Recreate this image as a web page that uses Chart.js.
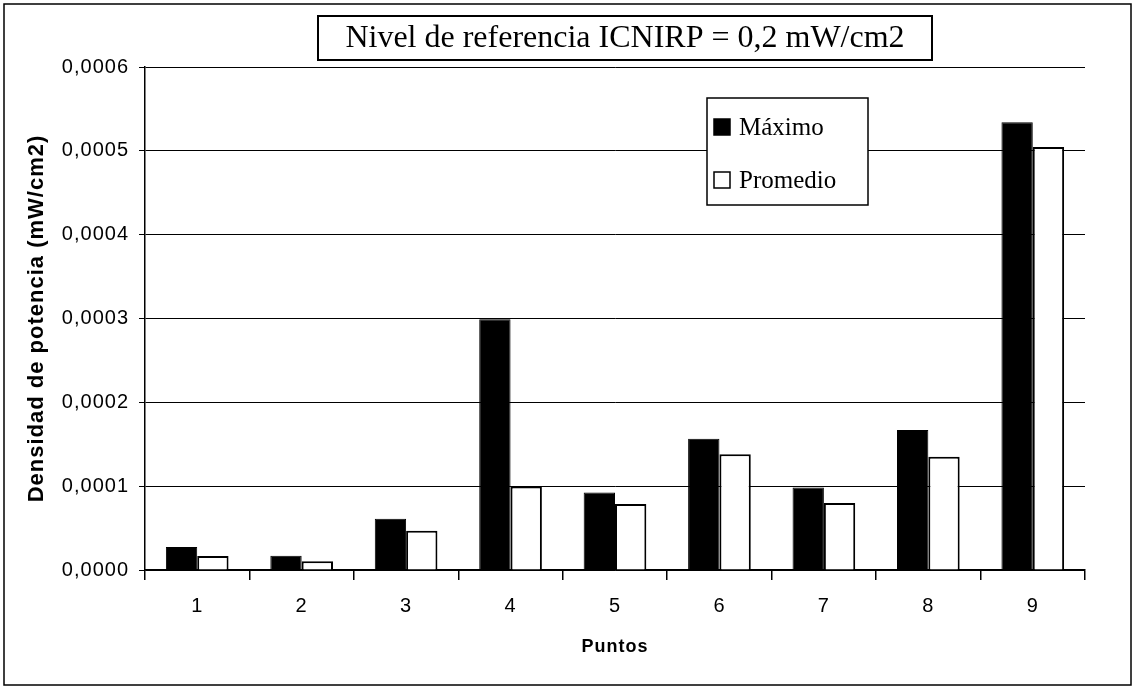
<!DOCTYPE html>
<html>
<head>
<meta charset="utf-8">
<script src="https://cdn.jsdelivr.net/npm/chart.js@4/dist/chart.umd.min.js"></script>
<style>
  html, body { margin: 0; padding: 0; background: #fff; }
  #wrap { width: 1135px; height: 689px; }
</style>
</head>
<body>
<div id="wrap"><canvas id="chartPuntos" width="1135" height="689"></canvas></div>
<script>
const puntos = ['1', '2', '3', '4', '5', '6', '7', '8', '9']
const maximo = [0.0000275, 0.000017, 0.000061, 0.000299, 0.0000925, 0.0001565, 0.0000985, 0.000167, 0.000534]
const promedio = [0.0000167, 0.0000104, 0.0000469, 0.0000995, 0.0000788, 0.000138, 0.00008, 0.000135, 0.0005045]
const titulo = 'Nivel de referencia ICNIRP = 0,2 mW/cm2'

// letras un poco separadas como en el original
const espaciado = {
    id: 'espaciado',
    beforeInit(chart) { chart.ctx.letterSpacing = '1px' },
    beforeDraw(chart) { chart.ctx.letterSpacing = '1px' }
}

// marco, titulo en recuadro y leyenda
const extras = {
    id: 'extras',
    afterDraw(chart) {
        const ctx = chart.ctx
        ctx.save()
        ctx.letterSpacing = '0px'
        ctx.strokeStyle = '#000'
        ctx.lineWidth = 1.5
        ctx.strokeRect(4, 4, 1127, 681)

        ctx.lineWidth = 2
        ctx.fillStyle = '#fff'
        ctx.fillRect(318, 16, 614, 44)
        ctx.strokeRect(318, 16, 614, 44)
        ctx.fillStyle = '#000'
        ctx.font = '32px "Liberation Serif"'
        ctx.textAlign = 'center'
        ctx.textBaseline = 'middle'
        ctx.fillText(titulo, 625, 39)

        ctx.lineWidth = 1.5
        ctx.fillStyle = '#fff'
        ctx.fillRect(707, 98, 161, 107)
        ctx.strokeRect(707, 98, 161, 107)
        ctx.textAlign = 'left'
        ctx.font = '25px "Liberation Serif"'
        chart.data.datasets.forEach((ds, i) => {
            const y = 127 + i * 53
            ctx.fillStyle = ds.backgroundColor
            ctx.fillRect(714, y - 8, 16, 16)
            ctx.strokeRect(714, y - 8, 16, 16)
            ctx.fillStyle = '#000'
            ctx.fillText(ds.label, 739, y + 1)
        })
        ctx.restore()
    }
}

const ctxPuntos = document.getElementById('chartPuntos').getContext('2d')
const chartPuntos = new Chart(ctxPuntos, {
    type: 'bar',
    data: {
        labels: puntos,
        datasets: [
            {
                label: 'Máximo',
                data: maximo,
                backgroundColor: '#000',
                borderColor: '#000',
                borderWidth: 1
            },
            {
                label: 'Promedio',
                data: promedio,
                backgroundColor: '#fff',
                borderColor: '#000',
                borderWidth: 2
            }
        ]
    },
    options: {
        responsive: false,
        animation: false,
        layout: { padding: { top: 67, right: 50, left: 20, bottom: 27 } },
        plugins: {
            legend: { display: false },
            tooltip: { enabled: false }
        },
        datasets: { bar: { categoryPercentage: 0.6, barPercentage: 1 } },
        scales: {
            x: {
                afterFit: (s) => { s.height = 92 },
                grid: { offset: true, drawOnChartArea: false, color: '#000', tickLength: 10, lineWidth: 1.5 },
                border: { color: '#000', width: 1.5 },
                ticks: { color: '#000', font: { family: 'Liberation Sans', size: 20 }, padding: 14 },
                title: { display: true, text: 'Puntos', color: '#000', font: { family: 'Liberation Sans', size: 18, weight: 'bold' }, padding: { top: 4, bottom: 4 } }
            },
            y: {
                min: 0,
                max: 0.0006,
                afterFit: (s) => { s.width = 125 },
                grid: { color: '#000', lineWidth: 1, tickLength: 6 },
                border: { color: '#000', width: 1.5 },
                ticks: {
                    stepSize: 0.0001,
                    color: '#000',
                    font: { family: 'Liberation Sans', size: 20 },
                    padding: 10,
                    callback: (v) => v.toFixed(4).replace('.', ',')
                },
                title: { display: true, text: 'Densidad de potencia (mW/cm2)', color: '#000', font: { family: 'Liberation Sans', size: 22, weight: 'bold' }, padding: { top: 4, bottom: 4 } }
            }
        }
    },
    plugins: [espaciado, extras]
})
</script>
</body>
</html>
